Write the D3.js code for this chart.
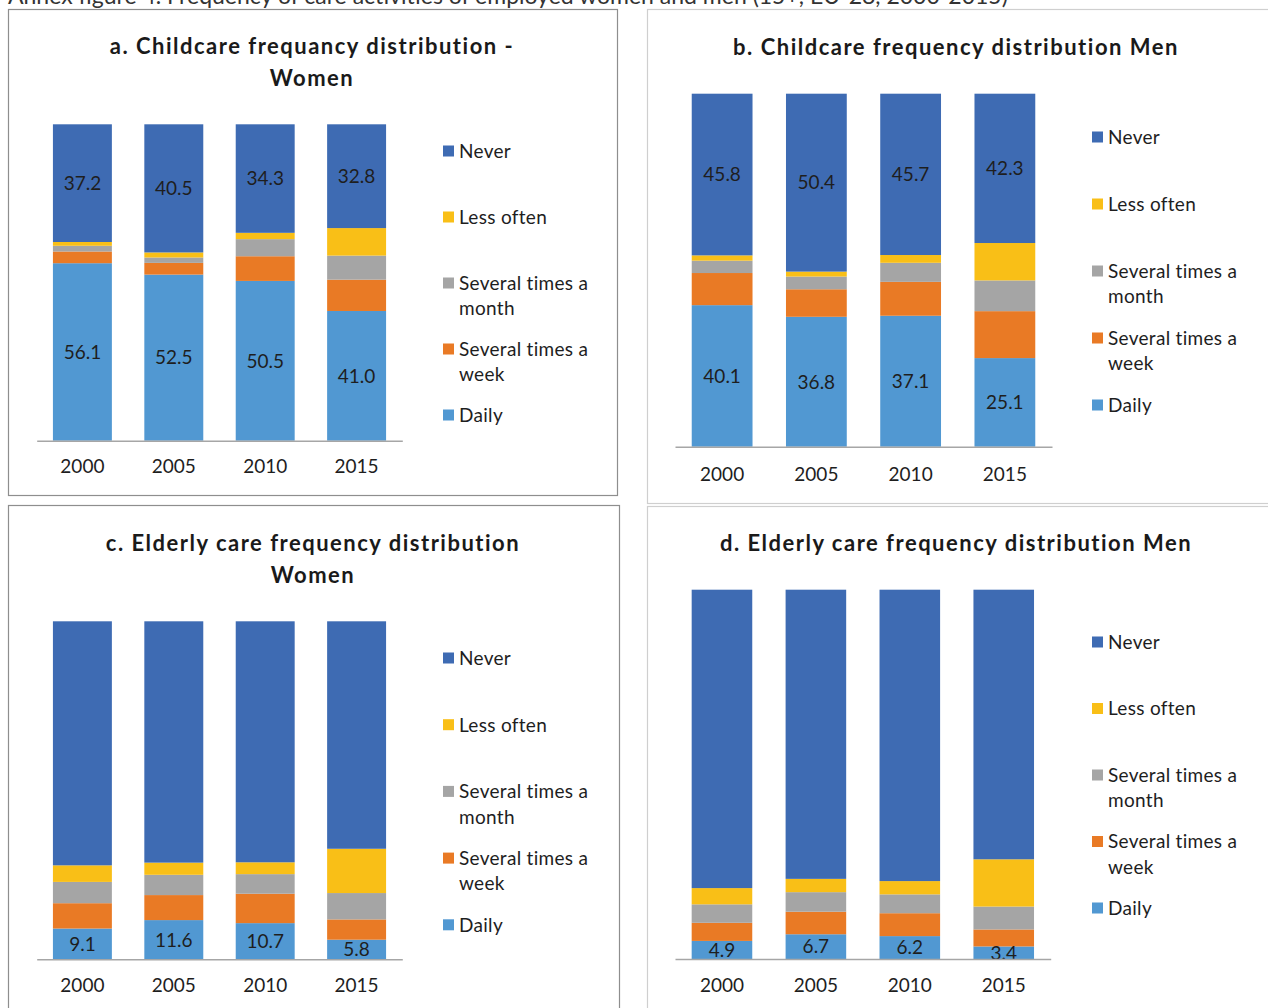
<!DOCTYPE html>
<html>
<head>
<meta charset="utf-8">
<script src="https://cdn.jsdelivr.net/npm/d3@7"></script>
<style>
  body { margin: 0; background: #fff; }
  svg { display: block; }
  text { font-family: Lato, "Open Sans", sans-serif; }
</style>
</head>
<body>
<svg id="chart" width="1268" height="1008"></svg>
<script>
// ---- data -------------------------------------------------------------
const years = ["2000", "2005", "2010", "2015"];
const seriesKeys = ["daily", "weekly", "monthly", "less", "never"];
const legendKeys = ["never", "less", "monthly", "weekly", "daily"];
const legendText = {
  never: ["Never"],
  less: ["Less often"],
  monthly: ["Several times a", "month"],
  weekly: ["Several times a", "week"],
  daily: ["Daily"]
};

// a. Childcare, women (%)
const childWomenDaily   = [56.1, 52.5, 50.5, 41.0];
const childWomenWeekly  = [3.7, 3.7, 7.8, 9.9];
const childWomenMonthly = [1.8, 1.7, 5.4, 7.6];
const childWomenLess    = [1.2, 1.6, 2.0, 8.7];
const childWomenNever   = [37.2, 40.5, 34.3, 32.8];

// b. Childcare, men (%)
const childMenDaily   = [40.1, 36.8, 37.1, 25.1];
const childMenWeekly  = [9.1, 7.8, 9.6, 13.3];
const childMenMonthly = [3.5, 3.6, 5.4, 8.7];
const childMenLess    = [1.5, 1.4, 2.2, 10.6];
const childMenNever   = [45.8, 50.4, 45.7, 42.3];

// c. Elderly care, women (%)
const elderWomenDaily   = [9.1, 11.6, 10.7, 5.8];
const elderWomenWeekly  = [7.5, 7.4, 8.7, 6.0];
const elderWomenMonthly = [6.3, 6.0, 5.8, 7.8];
const elderWomenLess    = [4.9, 3.6, 3.5, 13.1];
const elderWomenNever   = [72.2, 71.4, 71.3, 67.3];

// d. Elderly care, men (%)
const elderMenDaily   = [4.9, 6.7, 6.2, 3.4];
const elderMenWeekly  = [4.9, 6.1, 6.2, 4.6];
const elderMenMonthly = [5.0, 5.3, 5.1, 6.2];
const elderMenLess    = [4.4, 3.6, 3.6, 12.8];
const elderMenNever   = [80.8, 78.3, 78.9, 73.0];

// ---- styles -----------------------------------------------------------
const colors = {
  daily: "#5198d2",
  weekly: "#e97a25",
  monthly: "#a5a5a5",
  less: "#f9bf17",
  never: "#3e6bb3"
};
const textColor = "#1e1e1e";

// ---- panel layout -----------------------------------------------------
const panels = [
  {
    title: ["a. Childcare frequancy distribution -", "Women"],
    series: [childWomenDaily, childWomenWeekly, childWomenMonthly, childWomenLess, childWomenNever],
    labelKeys: ["daily", "never"],
    frame: { x: 8.5, y: 9.5, w: 609, h: 486, stroke: "#8e8e8e" },
    titleX: 312, titleY: 54,
    axisL: 36.7, axisR: 402.3, top: 124.3, base: 440.7, tickPad: 19,
    legendX: 443, legendY: 151, legendStep: 66
  },
  {
    title: ["b. Childcare frequency distribution Men"],
    series: [childMenDaily, childMenWeekly, childMenMonthly, childMenLess, childMenNever],
    labelKeys: ["daily", "never"],
    frame: { x: 647.5, y: 9.5, w: 640, h: 494, stroke: "#cfcfcf" },
    titleX: 956, titleY: 55,
    axisL: 675, axisR: 1052, top: 93.7, base: 446.7, tickPad: 20.5,
    legendX: 1092, legendY: 137, legendStep: 67
  },
  {
    title: ["c. Elderly care frequency distribution", "Women"],
    series: [elderWomenDaily, elderWomenWeekly, elderWomenMonthly, elderWomenLess, elderWomenNever],
    labelKeys: ["daily"],
    frame: { x: 8.5, y: 505.5, w: 611, h: 520, stroke: "#8e8e8e" },
    titleX: 313, titleY: 551,
    axisL: 36.7, axisR: 402.3, top: 621.3, base: 959.3, tickPad: 19.5,
    legendX: 443, legendY: 658, legendStep: 66.7
  },
  {
    title: ["d. Elderly care frequency distribution Men"],
    series: [elderMenDaily, elderMenWeekly, elderMenMonthly, elderMenLess, elderMenNever],
    labelKeys: ["daily"],
    frame: { x: 647.5, y: 506.5, w: 640, h: 520, stroke: "#cfcfcf" },
    titleX: 956, titleY: 551,
    axisL: 675, axisR: 1050.7, top: 589.7, base: 959, tickPad: 20,
    legendX: 1092, legendY: 642, legendStep: 66.5
  }
];

const svg = d3.select("#chart");

// Figure heading (runs off the top edge of the page)
svg.append("text")
  .attr("x", 8).attr("y", 4)
  .attr("font-size", 23)
  .attr("fill", "#333")
  .text("Annex figure 4. Frequency of care activities of employed women and men (15+, EU-28, 2000-2015)");

function drawPanel(p) {
  const g = svg.append("g");

  g.append("rect")
    .attr("x", p.frame.x).attr("y", p.frame.y)
    .attr("width", p.frame.w).attr("height", p.frame.h)
    .attr("fill", "#fff")
    .attr("stroke", p.frame.stroke).attr("stroke-width", 1.2);

  g.append("text")
    .attr("x", p.titleX).attr("y", p.titleY)
    .attr("text-anchor", "middle")
    .attr("font-size", 22).attr("font-weight", 700)
    .attr("letter-spacing", "1.5px")
    .attr("fill", "#1a1a1a")
    .selectAll("tspan").data(p.title).join("tspan")
    .attr("x", p.titleX)
    .attr("dy", (d, i) => i === 0 ? 0 : 31.5)
    .text(d => d);

  const x = d3.scaleBand()
    .domain(years)
    .range([p.axisL, p.axisR])
    .paddingInner(0.355)
    .paddingOuter(0.1775);

  const y = d3.scaleLinear().domain([0, 100]).range([p.base, p.top]);

  const rows = years.map((yr, i) => {
    const r = { year: yr };
    seriesKeys.forEach((k, j) => { r[k] = p.series[j][i]; });
    return r;
  });
  const stacked = d3.stack().keys(seriesKeys)(rows);

  g.selectAll("g.layer").data(stacked).join("g")
    .attr("class", "layer")
    .attr("fill", d => colors[d.key])
    .selectAll("rect").data(d => d).join("rect")
    .attr("x", d => x(d.data.year))
    .attr("y", d => y(d[1]))
    .attr("width", x.bandwidth())
    .attr("height", d => y(d[0]) - y(d[1]));

  // value labels centred in their segments
  stacked.filter(s => p.labelKeys.includes(s.key)).forEach(s => {
    g.append("g").selectAll("text").data(s).join("text")
      .attr("x", d => x(d.data.year) + x.bandwidth() / 2)
      .attr("y", d => (y(d[0]) + y(d[1])) / 2)
      .attr("dy", "0.36em")
      .attr("text-anchor", "middle")
      .attr("font-size", 19)
      .attr("fill", textColor)
      .text(d => d3.format(".1f")(d[1] - d[0]));
  });

  // category axis
  const axis = g.append("g")
    .attr("transform", `translate(0,${p.base})`)
    .call(d3.axisBottom(x).tickSize(0).tickSizeOuter(0).tickPadding(p.tickPad));
  axis.select(".domain").attr("stroke", "#a6a6a6").attr("stroke-width", 1.6);
  axis.selectAll(".tick text")
    .attr("font-size", 19)
    .attr("font-family", "Lato, 'Open Sans', sans-serif")
    .attr("fill", textColor);

  // legend
  const leg = g.append("g").selectAll("g").data(legendKeys).join("g")
    .attr("transform", (d, i) => `translate(${p.legendX},${p.legendY + i * p.legendStep})`);
  leg.append("rect")
    .attr("x", 0).attr("y", -5.5)
    .attr("width", 11).attr("height", 11)
    .attr("fill", d => colors[d]);
  leg.append("text")
    .attr("font-size", 19)
    .attr("letter-spacing", "0.3px")
    .attr("fill", textColor)
    .selectAll("tspan").data(d => legendText[d]).join("tspan")
    .attr("x", 16)
    .attr("y", (d, i) => i * 25.5)
    .attr("dy", "0.36em")
    .text(d => d);
}

panels.forEach(drawPanel);
</script>
</body>
</html>
